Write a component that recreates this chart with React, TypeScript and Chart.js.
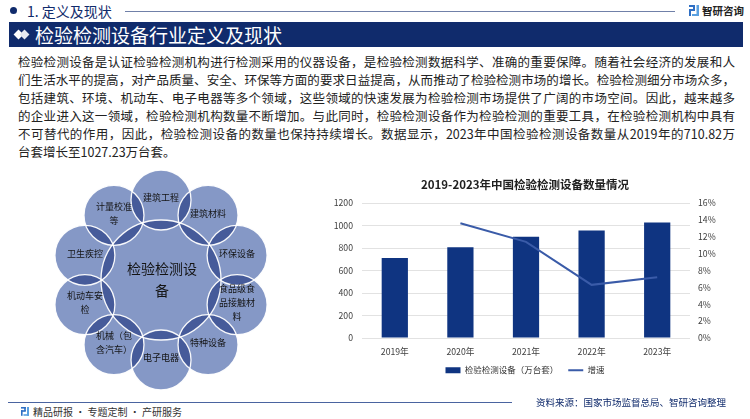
import React, { useEffect, useRef } from "react";
import { Chart, registerables } from "chart.js";

Chart.register(...registerables);

const FONT = '"Microsoft YaHei", "Noto Sans CJK SC", "Noto Sans", sans-serif';

// ---- chart data ----
const years = ["2019年", "2020年", "2021年", "2022年", "2023年"];
const deviceCounts = [710.82, 807.5, 899.6, 956.3, 1027.23];
const growthRates: (number | null)[] = [null, 13.6, 11.4, 6.3, 7.2];
const leftTicks = [0, 200, 400, 600, 800, 1000, 1200];
const rightTicks = [0, 2, 4, 6, 8, 10, 12, 14, 16];
const barLabel = "检验检测设备（万台套）";
const lineLabel = "增速";
const chartTitle = "2019-2023年中国检验检测设备数量情况";

// ---- diagram data ----
const centerLabel = ["检验检测设", "备"];
const fieldLabels = [
  ["建筑工程"],
  ["建筑材料"],
  ["环保设备"],
  ["食品级食", "品接触材", "料"],
  ["特种设备"],
  ["电子电器"],
  ["机械（包", "含汽车）"],
  ["机动车安", "检"],
  ["卫生疾控"],
  ["计量校准", "等"],
];

// ---- text ----
const sectionTitle = "1. 定义及现状";
const bannerTitle = "检验检测设备行业定义及现状";
const paragraphLines = [
  "检验检测设备是认证检验检测机构进行检测采用的仪器设备，是检验检测数据科学、准确的重要保障。随着社会经济的发展和人",
  "们生活水平的提高，对产品质量、安全、环保等方面的要求日益提高，从而推动了检验检测市场的增长。检验检测细分市场众多，",
  "包括建筑、环境、机动车、电子电器等多个领域，这些领域的快速发展为检验检测市场提供了广阔的市场空间。因此，越来越多",
  "的企业进入这一领域，检验检测机构数量不断增加。与此同时，检验检测设备作为检验检测的重要工具，在检验检测机构中具有",
  "不可替代的作用，因此，检验检测设备的数量也保持持续增长。数据显示，2023年中国检验检测设备数量从2019年的710.82万",
  "台套增长至1027.23万台套。",
];
const sourceText = "资料来源：国家市场监督总局、智研咨询整理";
const footerText = "精品研报 · 专题定制 · 产研服务";
const brandText = "智研咨询";

const NAVY = "#102b6c";

function LogoIcon({ size = 10 }: { size?: number }) {
  const s = size;
  return (
    <svg width={s} height={s * 1.1} viewBox="0 0 10 11" style={{ display: "block" }}>
      <rect x="0" y="0" width="6" height="2" fill="#2f6fc4" />
      <rect x="4" y="0" width="2" height="5" fill="#2f6fc4" />
      <rect x="0" y="4" width="6" height="2" fill="#2f6fc4" />
      <rect x="0" y="4" width="2" height="7" fill="#2f6fc4" />
      <rect x="7.5" y="0" width="2.5" height="11" fill="#5aa0e0" />
      <rect x="3" y="9" width="7" height="2" fill="#5aa0e0" />
    </svg>
  );
}

export default function App() {
  const chartRef = useRef<HTMLCanvasElement>(null);
  const diagRef = useRef<HTMLCanvasElement>(null);

  useEffect(() => {
    const canvas = chartRef.current!;
    const tickFont = { family: FONT, size: 8.7 };
    const chart = new Chart(canvas, {
      type: "bar",
      data: {
        labels: years,
        datasets: [
          {
            type: "bar",
            label: barLabel,
            data: deviceCounts,
            yAxisID: "y",
            backgroundColor: "#0f3481",
            borderWidth: 0,
            barPercentage: 0.4,
            categoryPercentage: 1,
            pointStyle: "rect",
            order: 1,
          } as any,
          {
            type: "line",
            label: lineLabel,
            data: growthRates,
            yAxisID: "y1",
            borderColor: "#3a5ba8",
            backgroundColor: "#3a5ba8",
            borderWidth: 2,
            pointRadius: 0,
            pointHoverRadius: 0,
            pointStyle: "line",
            tension: 0,
            spanGaps: false,
            order: 0,
          } as any,
        ],
      },
      options: {
        animation: false,
        responsive: false,
        maintainAspectRatio: false,
        devicePixelRatio: 1,
        layout: { padding: { left: 0, right: 0, top: 0, bottom: 15.5 } },
        plugins: {
          tooltip: { enabled: false },
          title: {
            display: true,
            text: chartTitle,
            color: "#1f1f1f",
            font: { family: FONT, size: 11.5, weight: "bold" },
            padding: { top: 7.5, bottom: 11.7 },
          },
          legend: {
            display: true,
            position: "bottom",
            labels: {
              usePointStyle: true,
              pointStyleWidth: 15,
              boxHeight: 6,
              padding: 10,
              color: "#333",
              font: { family: FONT, size: 8.5 },
              sort: (a: any, b: any) => a.datasetIndex - b.datasetIndex,
            },
          },
        },
        scales: {
          x: {
            grid: { display: false, drawTicks: false },
            border: { display: false },
            ticks: { color: "#404040", font: tickFont, padding: 8 },
            afterFit: (s: any) => {
              s.height = 18;
            },
          },
          y: {
            position: "left",
            min: leftTicks[0],
            max: leftTicks[leftTicks.length - 1],
            ticks: {
              stepSize: leftTicks[1] - leftTicks[0],
              color: "#404040",
              font: tickFont,
              padding: 9,
              callback: (v: any) => String(v),
            },
            grid: { color: "#e2e2e2", lineWidth: 1, drawTicks: false },
            border: { display: false },
            afterFit: (s: any) => {
              s.width = 62;
            },
          },
          y1: {
            position: "right",
            min: rightTicks[0],
            max: rightTicks[rightTicks.length - 1],
            ticks: {
              stepSize: rightTicks[1] - rightTicks[0],
              color: "#404040",
              font: tickFont,
              padding: 8,
              callback: (v: any) => v + "%",
            },
            grid: { display: false, drawTicks: false },
            border: { display: false },
            afterFit: (s: any) => {
              s.width = 60;
            },
          },
        },
      } as any,
    });
    return () => chart.destroy();
  }, []);

  useEffect(() => {
    const c = diagRef.current!;
    const ctx = c.getContext("2d")!;
    const offX = 30;
    const offY = 168;
    ctx.save();
    ctx.fillStyle = "#ffffff";
    ctx.fillRect(0, 0, c.width, c.height);
    ctx.translate(-offX, -offY);
    const cx = 161;
    const cy = 280;
    const R = 80;
    const r = 30;
    const rc = 60;
    const circles = [
      { x: cx, y: cy, r: rc },
      ...fieldLabels.map((_, i) => {
        const a = ((-90 + 36 * i) * Math.PI) / 180;
        return { x: cx + R * Math.cos(a), y: cy + R * Math.sin(a), r };
      }),
    ];
    ctx.globalCompositeOperation = "multiply";
    ctx.fillStyle = "#8598c6";
    circles.forEach((ci) => {
      ctx.beginPath();
      ctx.arc(ci.x, ci.y, ci.r, 0, Math.PI * 2);
      ctx.fill();
    });
    ctx.globalCompositeOperation = "source-over";
    ctx.strokeStyle = "rgba(255,255,255,0.95)";
    ctx.lineWidth = 1.3;
    circles.forEach((ci) => {
      ctx.beginPath();
      ctx.arc(ci.x, ci.y, ci.r, 0, Math.PI * 2);
      ctx.stroke();
    });
    ctx.fillStyle = "#141414";
    ctx.textAlign = "center";
    ctx.textBaseline = "middle";
    ctx.font = `9px ${FONT}`;
    fieldLabels.forEach((lines, i) => {
      const ci = circles[i + 1];
      const lh = 14;
      const y0 = ci.y - 2 - ((lines.length - 1) * lh) / 2;
      lines.forEach((t, k) => ctx.fillText(t, ci.x, y0 + k * lh));
    });
    ctx.font = `14px ${FONT}`;
    centerLabel.forEach((t, k) => ctx.fillText(t, cx + 1, cy - 11 + k * 22));
    ctx.restore();
  }, []);

  return (
    <div
      style={{
        position: "fixed",
        left: 0,
        top: 0,
        width: 750,
        height: 419,
        background: "#fff",
        overflow: "hidden",
        fontFamily: FONT,
        color: "#222",
      }}
    >
      {/* section header */}
      <div
        style={{
          position: "absolute",
          left: 10,
          top: 7,
          width: 7,
          height: 7,
          borderRadius: "50%",
          background: NAVY,
        }}
      />
      <div
        style={{
          position: "absolute",
          left: 27,
          top: 1,
          height: 20,
          lineHeight: "20px",
          fontSize: 14,
          color: NAVY,
          whiteSpace: "nowrap",
        }}
      >
        {sectionTitle}
      </div>
      <div
        style={{
          position: "absolute",
          left: 125,
          top: 11,
          width: 550,
          height: 1,
          background: "#7080a8",
        }}
      />
      <div style={{ position: "absolute", left: 689, top: 5 }}>
        <LogoIcon size={10} />
      </div>
      <div
        style={{
          position: "absolute",
          left: 702,
          top: 2,
          height: 18,
          lineHeight: "18px",
          fontSize: 10.5,
          fontWeight: "bold",
          color: "#222",
          whiteSpace: "nowrap",
        }}
      >
        {brandText}
      </div>

      {/* banner */}
      <div
        style={{
          position: "absolute",
          left: 9,
          top: 22,
          width: 734,
          height: 25,
          background: NAVY,
        }}
      />
      <div
        style={{
          position: "absolute",
          left: 15,
          top: 30.5,
          width: 7,
          height: 7,
          background: "#fff",
          transform: "rotate(45deg)",
        }}
      />
      <div
        style={{
          position: "absolute",
          left: 21,
          top: 30.5,
          width: 7,
          height: 7,
          background: "#e6e9f2",
          transform: "rotate(45deg)",
        }}
      />
      <div
        style={{
          position: "absolute",
          left: 35,
          top: 22,
          height: 25,
          lineHeight: "25px",
          fontSize: 19,
          color: "#fff",
          whiteSpace: "nowrap",
        }}
      >
        {bannerTitle}
      </div>

      {/* paragraph */}
      {paragraphLines.map((line, i) => (
        <div
          key={i}
          style={{
            position: "absolute",
            left: 18,
            top: 62.3 + i * 17.9 - 9,
            width: 717,
            height: 18,
            lineHeight: "18px",
            fontSize: 12.5,
            color: "#222",
            whiteSpace: "nowrap",
            textAlign: i < paragraphLines.length - 1 ? "justify" : "left",
            textAlignLast: i < paragraphLines.length - 1 ? "justify" : "left",
          }}
        >
          {line}
        </div>
      ))}

      {/* diagram */}
      <canvas
        ref={diagRef}
        width={270}
        height={228}
        style={{ position: "absolute", left: 30, top: 168, width: 270, height: 228 }}
      />

      {/* chart */}
      <canvas
        ref={chartRef}
        width={450}
        height={230}
        style={{ position: "absolute", left: 300, top: 170, width: 450, height: 230 }}
      />

      {/* footer */}
      <div
        style={{
          position: "absolute",
          left: 8,
          top: 402,
          width: 504,
          height: 1,
          background: "#4a64a0",
        }}
      />
      <div
        style={{
          position: "absolute",
          left: 536,
          top: 395,
          height: 14,
          lineHeight: "14px",
          fontSize: 9.5,
          color: NAVY,
          whiteSpace: "nowrap",
        }}
      >
        {sourceText}
      </div>
      <div style={{ position: "absolute", left: 21, top: 407 }}>
        <LogoIcon size={8} />
      </div>
      <div
        style={{
          position: "absolute",
          left: 33,
          top: 405,
          height: 14,
          lineHeight: "14px",
          fontSize: 10,
          color: "#333",
          whiteSpace: "nowrap",
        }}
      >
        {footerText}
      </div>
    </div>
  );
}
